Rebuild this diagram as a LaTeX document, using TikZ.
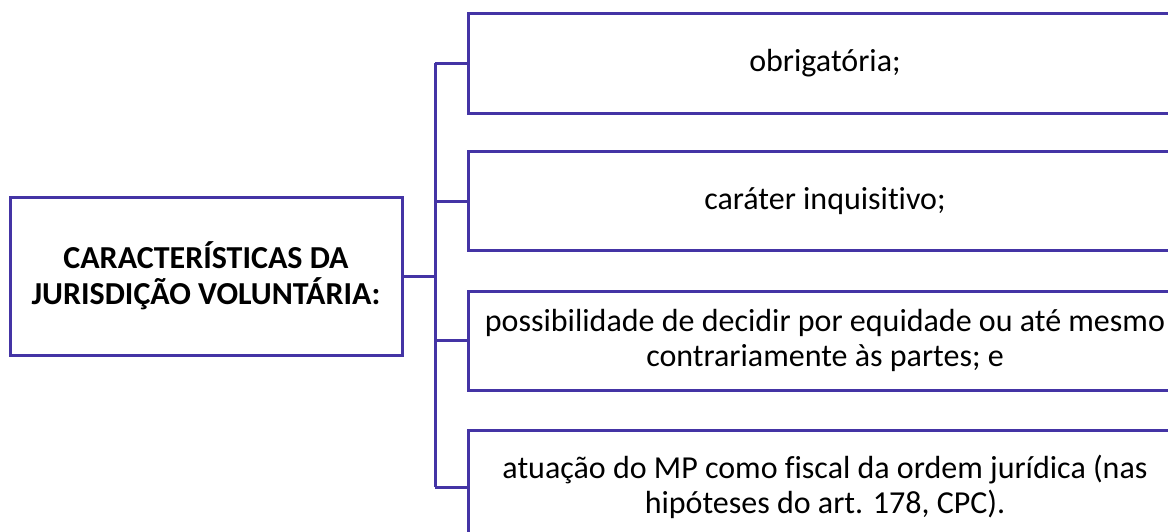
\documentclass[tikz,border=0pt]{standalone}
\usepackage{fontspec}
\setmainfont{Carlito}[Ligatures=CommonOff]
\definecolor{edge}{RGB}{68,52,165}
\begin{document}
\begin{tikzpicture}[x=1pt,y=-1pt,
  box/.style={draw=edge,line width=3pt,fill=white,inner sep=0pt,align=center,text=black},
  root/.style={box,minimum width=392pt,minimum height=158pt,font=\bfseries\fontsize{32}{36}\selectfont},
  item/.style={box,minimum width=714pt,font=\fontsize{32}{35}\selectfont},
  link/.style={draw=edge,line width=3pt}]
\useasboundingbox (0,0) rectangle (1168,531);
\clip (0,0) rectangle (1168,531);
\node[root] (L) at (206,276) {CARACTERÍSTICAS DA\\JURISDIÇÃO VOLUNTÁRIA:};
\node[item,minimum height=100pt] (b1) at (825,63) {obrigatória;};
\node[item,minimum height=99pt] (b2) at (825,201) {caráter inquisitivo;};
\node[item,minimum height=99pt] (b3) at (825,340.5) {possibilidade de decidir por equidade ou até mesmo\\contrariamente às partes; e};
\node[item,minimum height=114pt] (b4) at (825,487) {atuação do MP como fiscal da ordem jurídica (nas\\hipóteses do art. 178, CPC).};
\coordinate (t1) at (435,63);
\coordinate (t4) at (435,487);
\draw[link] (t1) -- (t4);
\draw[link] (L.east) -- (L.east -| t1);
\draw[link] (t1) -- (b1.west);
\draw[link] (b2.west -| t1) -- (b2.west);
\draw[link] (b3.west -| t1) -- (b3.west);
\draw[link] (t4) -- (b4.west);
\end{tikzpicture}
\end{document}
